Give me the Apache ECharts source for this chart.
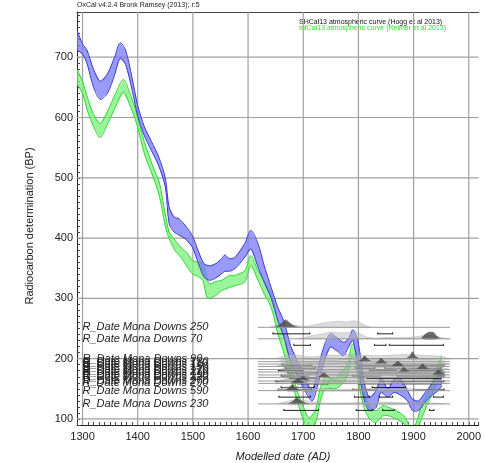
<!DOCTYPE html>
<html>
<head>
<meta charset="utf-8">
<script src="https://cdn.jsdelivr.net/npm/echarts@6/dist/echarts.min.js"></script>
<style>
html,body{margin:0;padding:0;background:#fff;}
#chart{width:484px;height:463px;}
</style>
</head>
<body>
<div id="chart"></div>
<script>
// SHCal13 band (upper / lower edge, BP)
const shYears = [1290,1300,1308,1320,1332,1345,1358,1368,1378,1390,1400,1412,1425,1438,1450,1457,1466,1475,1487,1499,1510,1520,1530,1542,1552,1558,1566,1576,1594,1605,1618,1630,1642,1654,1665,1677,1689,1701,1716,1726,1737,1749,1761,1773,1782,1790,1799,1811,1820,1832,1841,1853,1865,1877,1889,1898,1909,1921,1933,1945,1951];
const shUpper = [745,722,712,680,660,672,700,724,712,665,620,585,560,535,500,451,435,432,420,404,378,358,354,358,366,372,366,368,391,413,391,352,318,285,262,222,197,172,147,180,219,241,235,227,233,248,230,158,136,147,169,150,166,166,147,133,130,144,158,172,172];
const shLower = [712,705,690,650,630,640,670,698,688,645,603,570,545,520,485,424,410,405,398,385,358,336,330,334,341,345,345,349,368,382,352,325,300,263,237,195,172,150,130,155,192,219,213,205,219,230,186,130,114,119,144,136,144,139,130,114,114,128,139,147,155];

// IntCal13 band
const intYears = [1290,1300,1310,1320,1332,1345,1360,1374,1386,1398,1412,1428,1439,1450,1457,1468,1480,1490,1499,1510,1518,1525,1530,1542,1552,1566,1576,1594,1605,1618,1630,1642,1654,1665,1677,1689,1701,1710,1722,1731,1740,1758,1767,1779,1789,1799,1808,1820,1832,1844,1856,1868,1883,1895,1904,1915,1927,1939,1951];
const intUpper = [680,660,630,605,590,610,640,663,640,607,560,518,493,440,410,396,383,375,363,360,358,336,324,328,330,338,338,346,371,346,328,308,263,236,192,147,119,102,114,152,169,166,177,188,224,202,152,119,114,122,119,114,105,86,92,125,147,175,205];
const intLower = [655,640,608,585,567,588,618,642,620,590,540,501,471,420,399,379,366,352,341,336,330,302,300,305,313,318,321,327,354,330,306,285,241,209,169,130,97,82,92,130,150,150,155,169,205,169,125,100,94,105,105,100,92,75,78,102,128,152,186];

// dates: name, measured BP, prior / posterior shapes ([year, height in BP]), ranges
const dateNames = ['R_Date Mona Downs 250','R_Date Mona Downs 70','R_Date Mona Downs 90','R_Date Mona Downs 130','R_Date Mona Downs 110','R_Date Mona Downs 150','R_Date Mona Downs 170','R_Date Mona Downs 210','R_Date Mona Downs 190','R_Date Mona Downs 220','R_Date Mona Downs 270','R_Date Mona Downs 290','R_Date Mona Downs 590','R_Date Mona Downs 230'];
const dateBP = [252,233,200,195,191,187,182,178,173,169,163,159,147,125];
const priorShapes = [
  [[1640,0],[1650,3],[1660,6],[1670,7],[1680,5],[1692,2],[1705,2],[1720,4],[1735,7],[1750,9],[1765,10],[1780,9],[1792,11],[1802,8],[1812,3],[1822,0]],
  [[1690,0],[1705,3],[1720,6],[1735,8],[1750,11],[1765,10],[1780,10],[1795,11],[1806,7],[1815,3],[1830,1],[1850,2],[1880,2],[1900,3],[1915,5],[1928,6],[1940,4],[1955,1],[1965,0]],
  [[1650,0],[1665,4],[1680,7],[1695,5],[1715,3],[1735,5],[1760,6],[1785,7],[1810,6],[1835,5],[1860,6],[1885,7],[1905,6],[1930,5],[1950,4],[1962,0]],
  [[1655,0],[1670,5],[1690,6],[1710,4],[1730,5],[1750,6],[1775,4],[1800,6],[1830,5],[1860,4],[1890,5],[1920,4],[1945,3],[1960,0]],
  [[1660,0],[1675,6],[1695,5],[1720,3],[1745,6],[1770,5],[1795,3],[1820,5],[1845,6],[1870,5],[1900,4],[1930,5],[1955,2],[1962,0]],
  [[1650,0],[1670,4],[1690,7],[1710,5],[1740,4],[1770,6],[1800,4],[1830,5],[1860,6],[1890,5],[1920,4],[1950,3],[1960,0]],
  [[1660,0],[1680,5],[1700,6],[1725,4],[1750,5],[1780,4],[1810,5],[1840,4],[1870,5],[1900,6],[1925,6],[1950,4],[1962,0]],
  [[1655,0],[1675,5],[1695,6],[1720,4],[1750,3],[1780,5],[1815,5],[1850,4],[1880,6],[1910,5],[1940,4],[1958,0]],
  [[1660,0],[1680,4],[1700,5],[1730,4],[1760,3],[1790,4],[1820,5],[1850,4],[1880,4],[1910,5],[1940,6],[1960,0]],
  [[1665,0],[1685,4],[1710,5],[1735,6],[1760,4],[1790,3],[1820,4],[1850,4],[1880,3],[1910,4],[1940,3],[1958,0]],
  [[1655,0],[1675,5],[1695,7],[1715,5],[1740,3],[1770,3],[1800,4],[1830,3],[1860,3],[1900,3],[1940,2],[1955,0]],
  [[1650,0],[1670,6],[1690,7],[1710,5],[1735,3],[1770,2],[1800,3],[1840,3],[1880,2],[1920,3],[1950,2],[1960,0]],
  [[1650,0],[1665,5],[1680,7],[1700,6],[1720,4],[1745,3],[1770,2],[1800,3],[1830,4],[1860,3],[1890,3],[1920,2],[1945,2],[1955,0]],
  [[1655,0],[1670,4],[1685,7],[1700,6],[1715,4],[1730,2],[1750,1],[1790,2],[1820,3],[1850,3],[1880,2],[1920,2],[1945,1],[1955,0]]
];
const posteriorShapes = [
  [[1648,0],[1656,4],[1663,9],[1668,13],[1674,9],[1681,4],[1690,1],[1698,0]],
  [[1914,0],[1921,8],[1927,11],[1936,11],[1942,5],[1948,0]],
  [[1886,0],[1893,5],[1898,12],[1903,5],[1910,0]],
  [[1800,0],[1806,5],[1811,10],[1817,5],[1824,0]],
  [[1830,0],[1836,5],[1841,10],[1847,5],[1853,0]],
  [[1860,0],[1866,5],[1871,9],[1877,5],[1883,0]],
  [[1905,0],[1911,5],[1916,10],[1922,5],[1928,0]],
  [[1872,0],[1878,4],[1882,8],[1887,4],[1893,0]],
  [[1934,0],[1940,5],[1945,9],[1950,5],[1956,0]],
  [[1726,0],[1732,4],[1737,8],[1743,4],[1749,0]],
  [[1688,0],[1694,5],[1700,8],[1706,4],[1713,0]],
  [[1678,0],[1684,5],[1690,9],[1696,5],[1703,0]],
  [[1668,0],[1674,5],[1680,10],[1686,5],[1694,0]],
  [[1672,0],[1680,4],[1688,10],[1695,6],[1705,2],[1712,0]]
];
const rangeBars = [
  [[1645,1712],[1835,1862]],
  [[1683,1713],[1829,1850],[1856,1954]],
  [[1662,1716],[1800,1955]],
  [[1667,1722],[1795,1830],[1848,1950]],
  [[1655,1700],[1820,1870],[1885,1952]],
  [[1672,1725],[1805,1955]],
  [[1660,1710],[1790,1840],[1870,1955]],
  [[1675,1720],[1815,1950]],
  [[1650,1705],[1840,1955]],
  [[1690,1745],[1800,1860],[1880,1950]],
  [[1660,1720],[1825,1885]],
  [[1655,1715],[1790,1830],[1900,1955]],
  [[1656,1713],[1793,1820],[1838,1862],[1936,1954]],
  [[1665,1728],[1796,1826],[1844,1865],[1929,1937]]
];

const xTicks = [1300,1400,1500,1600,1700,1800,1900,2000];
const yTicks = [100,200,300,400,500,600,700];
const xMin = 1290, xMax = 2018, yMin = 90, yMax = 775;
const lineStart = 1618, lineEnd = 1966;

const FONT = '"Liberation Sans", Arial, sans-serif';

function bandSeries(years, upper, lower, fill, edge) {
  const data = years.map((y, i) => [y, upper[i], lower[i]]);
  return {
    type: 'custom',
    clip: true,
    silent: true,
    data: data,
    renderItem: (params, api) => {
      if (params.dataIndex !== 0) return null;
      const top = data.map(d => api.coord([d[0], d[1]]));
      const bot = data.map(d => api.coord([d[0], d[2]]));
      return {
        type: 'group',
        children: [
          {type: 'polygon', shape: {points: top.concat(bot.slice().reverse())}, style: {fill: fill}},
          {type: 'polyline', shape: {points: top, smooth: 0.3}, style: {stroke: edge, lineWidth: 1, fill: null}},
          {type: 'polyline', shape: {points: bot, smooth: 0.3}, style: {stroke: edge, lineWidth: 1, fill: null}}
        ]
      };
    }
  };
}

const chart = echarts.init(document.getElementById('chart'));

chart.setOption({
  animation: false,
  grid: {left: 77, right: 0, top: 12, bottom: 38},
  xAxis: [{
    type: 'value', min: xMin, max: xMax, interval: 10,
    axisLine: {lineStyle: {color: '#222'}},
    axisTick: {inside: true, length: 3, lineStyle: {color: '#444'}},
    axisLabel: {
      margin: 6, color: '#222', fontSize: 11, fontFamily: FONT,
      formatter: v => (v % 100 === 0 ? String(v) : '')
    },
    splitLine: {show: false}
  }, {
    type: 'value', min: xMin, max: xMax, position: 'top',
    axisLine: {show: true, lineStyle: {color: '#444'}},
    axisTick: {show: false}, axisLabel: {show: false}, splitLine: {show: false}
  }],
  yAxis: {
    type: 'value', min: yMin, max: yMax, interval: 10,
    axisLine: {lineStyle: {color: '#222'}},
    axisTick: {inside: true, length: 3, lineStyle: {color: '#444'}},
    axisLabel: {
      margin: 4, color: '#222', fontSize: 11, fontFamily: FONT,
      formatter: v => (v % 100 === 0 ? String(v) : '')
    },
    splitLine: {show: false}
  },
  graphic: [
    {type: 'text', x: 77, y: 2, style: {text: 'OxCal v4.2.4 Bronk Ramsey (2013); r:5', font: '7px ' + FONT, fill: '#222'}},
    {type: 'text', x: 299, y: 19, style: {text: 'SHCal13 atmospheric curve (Hogg et al 2013)', font: '7px ' + FONT, fill: '#111'}},
    {type: 'text', x: 299, y: 25, style: {text: 'IntCal13 atmospheric curve (Reimer et al 2013)', font: '7px ' + FONT, fill: '#33dd33'}},
    {type: 'text', x: 30, y: 226, rotation: Math.PI / 2,
      style: {text: 'Radiocarbon determination (BP)', font: '11px ' + FONT, fill: '#222', align: 'center', verticalAlign: 'middle'}},
    {type: 'text', x: 283, y: 457,
      style: {text: 'Modelled date (AD)', font: 'italic 11px ' + FONT, fill: '#222', align: 'center', verticalAlign: 'middle'}}
  ],
  series: [
    {
      // grid lines
      type: 'custom', silent: true, data: [[xMin, yMin]],
      renderItem: (params, api) => {
        const children = [];
        xTicks.forEach(x => {
          const a = api.coord([x, yMin]), b = api.coord([x, yMax]);
          children.push({type: 'line', shape: {x1: a[0], y1: a[1], x2: b[0], y2: b[1]}, style: {stroke: '#a0a0a0', lineWidth: 1.2}});
        });
        yTicks.forEach(y => {
          const a = api.coord([xMin, y]), b = api.coord([xMax, y]);
          children.push({type: 'line', shape: {x1: a[0], y1: a[1], x2: b[0], y2: b[1]}, style: {stroke: '#a0a0a0', lineWidth: 1.2}});
        });
        return {type: 'group', children};
      }
    },
    bandSeries(intYears, intUpper, intLower, 'rgba(120,240,120,0.75)', '#33d633'),
    bandSeries(shYears, shUpper, shLower, 'rgba(120,120,245,0.75)', '#3a3ad0'),
    {
      // R_Date distributions
      type: 'custom', silent: true,
      data: dateBP.map(b => [xMin, b]),
      renderItem: (params, api) => {
        const i = params.dataIndex;
        const base = dateBP[i];
        const shape = pts => pts.map(p => api.coord([p[0], base + p[1]]));
        const p0 = api.coord([lineStart, base]);
        const p1 = api.coord([lineEnd, base]);
        const children = [
          {type: 'polygon', shape: {points: shape(priorShapes[i]), smooth: 0.3},
            style: {fill: 'rgba(185,185,185,0.5)', stroke: 'rgba(140,140,140,0.5)', lineWidth: 0.6}},
          {type: 'polygon', shape: {points: shape(posteriorShapes[i]), smooth: 0.3},
            style: {fill: 'rgba(70,70,70,0.8)'}},
          {type: 'line', shape: {x1: p0[0], y1: p0[1], x2: p1[0], y2: p1[1]},
            style: {stroke: '#9a9a9a', lineWidth: 1}}
        ];
        rangeBars[i].forEach(r => {
          const a = api.coord([r[0], base]);
          const c = api.coord([r[1], base]);
          const y = a[1] + 6.5;
          children.push({type: 'line', shape: {x1: a[0], y1: y, x2: c[0], y2: y}, style: {stroke: '#222', lineWidth: 1}});
          children.push({type: 'line', shape: {x1: a[0], y1: y - 1.5, x2: a[0], y2: y + 0.5}, style: {stroke: '#222', lineWidth: 1}});
          children.push({type: 'line', shape: {x1: c[0], y1: y - 1.5, x2: c[0], y2: y + 0.5}, style: {stroke: '#222', lineWidth: 1}});
        });
        const t = api.coord([1300, base]);
        children.push({type: 'text', x: t[0], y: t[1],
          style: {text: dateNames[i], font: 'italic 11px ' + FONT, fill: '#222', align: 'left', verticalAlign: 'middle'}});
        return {type: 'group', children};
      }
    }
  ]
});
</script>
</body>
</html>
